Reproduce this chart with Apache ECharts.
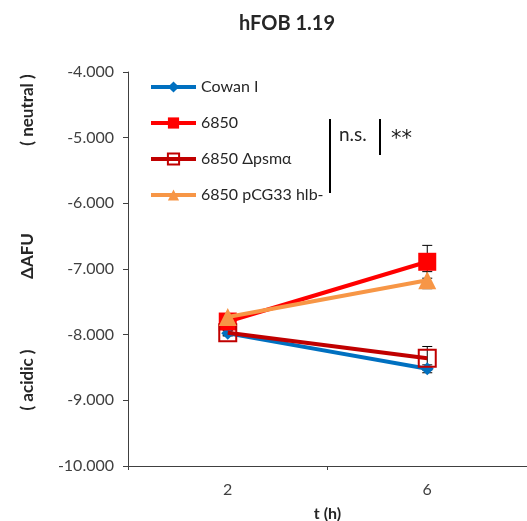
<!DOCTYPE html>
<html>
<head>
<meta charset="utf-8">
<script src="https://cdn.jsdelivr.net/npm/echarts@6/dist/echarts.min.js"></script>
<style>html,body{margin:0;padding:0;background:#fff;}#c{width:527px;height:521px;}</style>
</head>
<body>
<div id="c"></div>
<script>
var categories = ['2', '6'];
var seriesNames = ['Cowan I', '6850', '6850 \u0394psm\u03b1', '6850 pCG33 hlb-'];
var cowanValues = [-7.98, -8.52];
var s6850Values = [-7.80, -6.89];
var psmaValues = [-7.97, -8.36];
var pcgValues = [-7.73, -7.17];
var cowanErr = [0.04, 0.06];
var s6850Err = [0.05, 0.25];
var psmaErr = [0.04, 0.18];
var pcgErr = [0.04, 0.13];

var FONT = 'Lato';
var colors = ['#0070C0', '#FF0000', '#C00000', '#F79646'];

function errData(vals, errs) {
  return vals.map(function (v, i) { return [i, v, errs[i]]; });
}
function errSeries(vals, errs) {
  return {
    type: 'custom', z: 1, silent: true,
    data: errData(vals, errs),
    encode: { x: 0, y: 1 },
    renderItem: function (params, api) {
      var x = api.value(0), y = api.value(1), e = api.value(2);
      var top = api.coord([x, y + e]);
      var bot = api.coord([x, y - e]);
      var w = 5;
      var st = { stroke: '#000', lineWidth: 1 };
      return { type: 'group', children: [
        { type: 'line', shape: { x1: top[0], y1: top[1], x2: bot[0], y2: bot[1] }, style: st },
        { type: 'line', shape: { x1: top[0] - w, y1: top[1], x2: top[0] + w, y2: top[1] }, style: st },
        { type: 'line', shape: { x1: bot[0] - w, y1: bot[1], x2: bot[0] + w, y2: bot[1] }, style: st }
      ]};
    }
  };
}

var chart = echarts.init(document.getElementById('c'), null, { renderer: 'canvas' });
chart.setOption({
  animation: false,
  backgroundColor: '#fff',
  textStyle: { fontFamily: FONT },
  title: {
    text: 'hFOB 1.19', left: 287, top: 14, textAlign: 'center', padding: 0,
    textStyle: { fontFamily: FONT, fontSize: 20, fontWeight: 'bold', color: '#262626' }
  },
  legend: {
    orient: 'vertical', left: 149, top: 79, padding: 0, itemGap: 20, itemWidth: 45, itemHeight: 14,
    data: seriesNames,
    lineStyle: { width: 4 },
    textStyle: { fontFamily: FONT, fontSize: 16, lineHeight: 14, color: '#262626' }
  },
  grid: { left: 128, right: 0, top: 72, bottom: 55, containLabel: false, outerBoundsMode: 'none' },
  xAxis: {
    type: 'category', data: categories, boundaryGap: true,
    name: 't (h)', nameLocation: 'middle', nameGap: 40,
    nameTextStyle: { fontFamily: FONT, fontSize: 16, fontWeight: 'bold', color: '#262626' },
    axisLine: { lineStyle: { color: '#404040', width: 1 } },
    axisTick: { show: true, length: 4, lineStyle: { color: '#404040' } },
    axisLabel: { fontFamily: FONT, fontSize: 16, color: '#404040', margin: 16 },
    splitLine: { show: false }
  },
  yAxis: {
    type: 'value', min: -10, max: -4, interval: 1,
    axisLine: { show: true, lineStyle: { color: '#404040', width: 1 } },
    axisTick: { show: true, length: 5, lineStyle: { color: '#404040' } },
    axisLabel: { fontFamily: FONT, fontSize: 16, color: '#404040', margin: 14,
      formatter: function (v) { return v.toFixed(3); } },
    splitLine: { show: false }
  },
  graphic: [
    { type: 'text', x: 28, y: 110, rotation: Math.PI / 2, style: { text: '( neutral )', fontFamily: FONT, fontSize: 17, fontWeight: 'bold', fill: '#262626', align: 'center', verticalAlign: 'middle' } },
    { type: 'text', x: 28, y: 256, rotation: Math.PI / 2, style: { text: '\u0394AFU', fontFamily: FONT, fontSize: 17, fontWeight: 'bold', fill: '#262626', align: 'center', verticalAlign: 'middle' } },
    { type: 'text', x: 28, y: 380, rotation: Math.PI / 2, style: { text: '( acidic )', fontFamily: FONT, fontSize: 17, fontWeight: 'bold', fill: '#262626', align: 'center', verticalAlign: 'middle' } },
    { type: 'line', shape: { x1: 330, y1: 119, x2: 330, y2: 193 }, style: { stroke: '#000', lineWidth: 2 } },
    { type: 'text', x: 339, y: 135, style: { text: 'n.s.', fontFamily: FONT, fontSize: 19, fill: '#262626', verticalAlign: 'middle' } },
    { type: 'line', shape: { x1: 380, y1: 119, x2: 380, y2: 155 }, style: { stroke: '#000', lineWidth: 2 } },
    { type: 'text', x: 391, y: 140, style: { text: '**', fontFamily: 'DejaVu Sans', fontSize: 21, fill: '#1a1a1a', verticalAlign: 'middle' } }
  ],
  series: [
    errSeries(cowanValues, cowanErr),
    errSeries(s6850Values, s6850Err),
    errSeries(psmaValues, psmaErr),
    errSeries(pcgValues, pcgErr),
    { name: seriesNames[0], type: 'line', z: 2, data: cowanValues, symbol: 'diamond', symbolSize: 13,
      lineStyle: { color: colors[0], width: 4 }, itemStyle: { color: colors[0] } },
    { name: seriesNames[1], type: 'line', z: 3, data: s6850Values, symbol: 'rect', symbolSize: 18,
      lineStyle: { color: colors[1], width: 4 }, itemStyle: { color: colors[1] } },
    { name: seriesNames[2], type: 'line', z: 4, data: psmaValues, symbol: 'rect', symbolSize: 17,
      lineStyle: { color: colors[2], width: 4 }, itemStyle: { color: 'rgba(255,255,255,0)', borderColor: colors[2], borderWidth: 2 } },
    { name: seriesNames[3], type: 'line', z: 5, data: pcgValues, symbol: 'triangle', symbolSize: 18,
      lineStyle: { color: colors[3], width: 4 }, itemStyle: { color: colors[3] } }
  ]
});
</script>
</body>
</html>
